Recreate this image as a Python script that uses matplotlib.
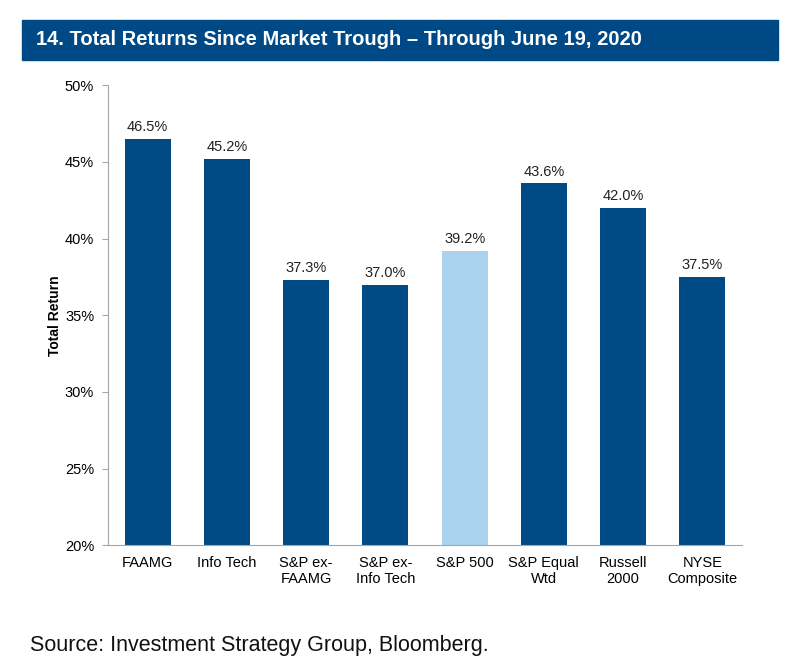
import matplotlib.pyplot as plt
from matplotlib.patches import Rectangle
from matplotlib.ticker import FuncFormatter

categories = ["FAAMG", "Info Tech", "S&P ex-\nFAAMG", "S&P ex-\nInfo Tech", "S&P 500",
              "S&P Equal\nWtd", "Russell\n2000", "NYSE\nComposite"]
returns = [46.5, 45.2, 37.3, 37.0, 39.2, 43.6, 42.0, 37.5]
highlight = "S&P 500"

DARK = "#004A86"
LIGHT = "#AAD2EF"
GRAY = "#A6A6A6"

plt.rcParams["font.family"] = ["Liberation Sans", "DejaVu Sans"]

fig = plt.figure(figsize=(8, 6.65), dpi=100)
ax = fig.add_axes([0.135, 0.18, 0.7925, 0.692])

colors = [LIGHT if c == highlight else DARK for c in categories]
x = range(len(categories))
bars = ax.bar(x, returns, width=0.58, color=colors, zorder=2)
for xi, v in zip(x, returns):
    ax.text(xi, v + 0.3, f"{v:.1f}%", ha="center", va="bottom", fontsize=10.5, color="#222222")

ax.set_xlim(-0.5, len(categories) - 0.5)
ax.set_ylim(20, 50)
ax.set_yticks(range(20, 51, 5))
ax.yaxis.set_major_formatter(FuncFormatter(lambda v, p: f"{v:.0f}%"))
ax.set_xticks(list(x))
ax.set_xticklabels(categories, fontsize=10.5, linespacing=1.15)
ax.tick_params(axis="x", length=0, pad=8)
ax.tick_params(axis="y", length=4, color=GRAY, labelsize=10.5, pad=6)
for s in ["top", "right"]:
    ax.spines[s].set_visible(False)
for s in ["left", "bottom"]:
    ax.spines[s].set_color(GRAY)
ax.set_ylabel("Total Return", fontsize=10, fontweight="bold")
ax.yaxis.set_label_coords(-0.072, 0.5)

# title bar
fig.patches.append(Rectangle((0.0275, 0.91), 0.945, 0.06, transform=fig.transFigure,
                             color="#004987", zorder=0))
fig.text(0.045, 0.94, "14. Total Returns Since Market Trough \u2013 Through June 19, 2020",
         color="white", fontsize=14.5, fontweight="bold", va="center", ha="left")

fig.text(0.037, 0.03, "Source: Investment Strategy Group, Bloomberg.", fontsize=15.5,
         va="center", ha="left", color="#111111")

fig.savefig("out.png", dpi=100)
